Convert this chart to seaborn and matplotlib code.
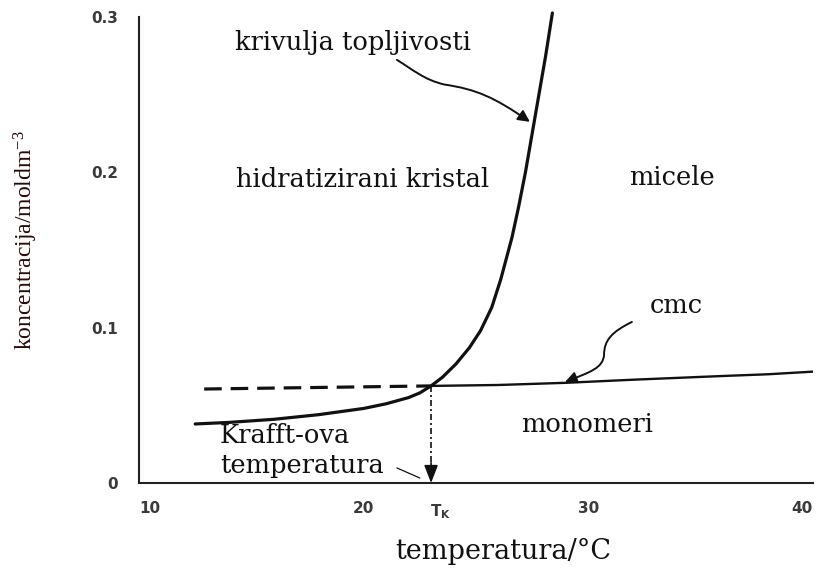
import numpy as np
import matplotlib
matplotlib.use("Agg")
import matplotlib.pyplot as plt
import matplotlib.transforms as mtransforms
from matplotlib.path import Path
from matplotlib.patches import FancyArrowPatch
import seaborn as sns

# solubility curve (krivulja topljivosti)
sol_t = [12.5, 14, 16, 18, 20, 21, 22, 22.5, 23, 23.5, 24.1, 24.7, 25.2, 25.7, 26.1, 26.6, 26.9,
         27.2, 27.5, 27.8, 28.1, 28.4]
sol_c = [0.038, 0.039, 0.041, 0.044, 0.048, 0.051, 0.055, 0.058, 0.0625, 0.068, 0.0765, 0.087,
         0.098, 0.113, 0.131, 0.158, 0.178, 0.200, 0.225, 0.250, 0.275, 0.3026]

# cmc line
cmc_t = [23, 26, 29, 32, 36, 38, 40]
cmc_c = [0.0625, 0.0631, 0.0645, 0.0665, 0.0689, 0.0700, 0.0717]

# dashed extension of cmc below Krafft point
ext_t = [12.9, 23.0]
ext_c = [0.0605, 0.0625]

# Krafft point
tk = 23.0
ck = 0.0625

xticks = [10, 20, 30, 40]
yticks = [0, 0.1, 0.2, 0.3]
ytick_labels = ["0", "0.1", "0.2", "0.3"]

sns.set_theme(style="white")
plt.rcParams["font.family"] = ["DejaVu Serif"]
plt.rcParams["mathtext.fontset"] = "custom"
plt.rcParams["mathtext.rm"] = "Liberation Serif"
plt.rcParams["mathtext.it"] = "Liberation Serif:italic"
plt.rcParams["mathtext.bf"] = "DejaVu Sans:bold"

fig = plt.figure(figsize=(8.18, 5.68), dpi=100)
ax = fig.add_axes([139 / 818, 1 - 483 / 568, 674 / 818, 466 / 568])

ink = "#111111"
sns.lineplot(x=sol_t, y=sol_c, ax=ax, color=ink, lw=2.3, estimator=None, sort=False, clip_on=False)
sns.lineplot(x=cmc_t, y=cmc_c, ax=ax, color=ink, lw=1.7, estimator=None, sort=False)
ax.plot(ext_t, ext_c, color=ink, lw=2.3, dashes=(5.5, 2.8))

# vertical dash-dot down to Tk with arrowhead
ax.plot([tk, tk], [ck, 0.012], color=ink, lw=1.2, dashes=(3.6, 1.8, 1.2, 1.8))
ax.annotate("", xy=(tk, 0), xytext=(tk, 0.013),
            arrowprops=dict(arrowstyle="-|>,head_length=0.9,head_width=0.35", color=ink, lw=1.2,
                            shrinkA=0, shrinkB=0))

ax.set_xlim(10, 40)
ax.set_ylim(0, 0.3)
ax.set_xticks(xticks)
ax.set_xticklabels([str(v) for v in xticks])
ax.set_yticks(yticks)
ax.set_yticklabels(ytick_labels)
for lab in ax.get_xticklabels() + ax.get_yticklabels():
    lab.set_fontfamily("DejaVu Sans")
    lab.set_fontweight("bold")
    lab.set_fontsize(11)
    lab.set_color("#3a3a3a")
xl = ax.get_xticklabels()
xl[0].set_horizontalalignment("left")
xl[-1].set_horizontalalignment("right")
ax.tick_params(axis="y", direction="in", length=12, width=1.4, pad=15, colors="#222222", labelcolor="#3a3a3a")
ax.tick_params(axis="x", direction="in", length=6, width=1.4, pad=13, colors="#222222", labelcolor="#3a3a3a")

trans = mtransforms.blended_transform_factory(ax.transData, ax.transAxes)
ax.text(tk + 0.4, -0.041, r"$\mathbf{T_K}$", transform=trans, ha="center", va="top",
        fontsize=11, color="#3a3a3a")

sns.despine(ax=ax)
for s in ["left", "bottom"]:
    ax.spines[s].set_linewidth(1.5)
    ax.spines[s].set_color("#222222")

# region labels
fs = 18.5
ax.text(19.52, 0.2788, "krivulja topljivosti", ha="center", va="baseline", fontsize=fs, color=ink)
ax.text(19.95, 0.1906, "hidratizirani kristal", ha="center", va="baseline", fontsize=fs, color=ink)
ax.text(33.74, 0.1919, "micele", ha="center", va="baseline", fontsize=fs, color=ink)
ax.text(33.90, 0.1095, "cmc", ha="center", va="baseline", fontsize=fs, color=ink)
ax.text(29.94, 0.0328, "monomeri", ha="center", va="baseline", fontsize=fs, color=ink)
ax.text(13.6, 0.0258, "Krafft-ova", ha="left", va="baseline", fontsize=fs, color=ink)
ax.text(13.6, 0.0064, "temperatura", ha="left", va="baseline", fontsize=fs, color=ink)

# curved pointer arrows
krv_path = Path([(21.48, 0.2724), (22.2, 0.266), (22.7, 0.2595), (23.6, 0.2565),
                 (25.0, 0.2535), (25.8, 0.2485), (27.4, 0.2325)],
                [Path.MOVETO, Path.CURVE4, Path.CURVE4, Path.CURVE4, Path.CURVE4, Path.CURVE4, Path.CURVE4])
ax.add_patch(FancyArrowPatch(path=krv_path, arrowstyle="-|>,head_length=7,head_width=3.5",
                             color=ink, lw=1.4, mutation_scale=1))
cmc_path = Path([(31.94, 0.1037), (31.05, 0.0973), (30.7, 0.092), (30.7, 0.0825),
                 (30.65, 0.074), (30.1, 0.0715), (28.96, 0.065)],
                [Path.MOVETO, Path.CURVE4, Path.CURVE4, Path.CURVE4, Path.CURVE4, Path.CURVE4, Path.CURVE4])
ax.add_patch(FancyArrowPatch(path=cmc_path, arrowstyle="-|>,head_length=7,head_width=3.5",
                             color=ink, lw=1.4, mutation_scale=1))
ax.plot([21.48, 22.5], [0.0097, 0.0032], color=ink, lw=0.9)

ax.set_xlabel("temperatura/°C", fontsize=19.5, color=ink, family="DejaVu Serif")
ax.xaxis.set_label_coords(0.54, -0.117)
fig.text(26 / 818, 1 - 240 / 568, "koncentracija/moldm$^{-3}$", rotation=90, ha="center", va="center",
         fontsize=17, color="#2a0808", family="Liberation Serif")

fig.savefig("out.png", dpi=100)
